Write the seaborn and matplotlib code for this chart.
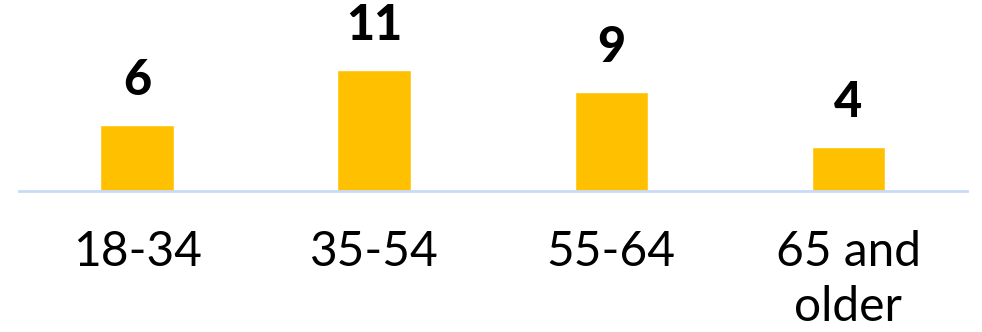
import matplotlib
matplotlib.use("Agg")
import matplotlib.pyplot as plt
import seaborn as sns
import pandas as pd

categories = ["18-34", "35-54", "55-64", "65 and\nolder"]
values = [6, 11, 9, 4]

sns.set_theme(style="white")
plt.rcParams['font.family'] = ['Lato', 'DejaVu Sans']

df = pd.DataFrame({"age": categories, "value": values})

fig = plt.figure(figsize=(9.82, 3.32), dpi=100)
ax = fig.add_axes([0.0, (332 - 191) / 332, 1.0, 191 / 332])
sns.barplot(data=df, x="age", y="value", color="#FFC000", width=0.31,
            saturation=1, ax=ax)

ax.set_xlim(-0.5 - 18.5 / 237, 3.5 + 15 / 237)
ax.set_ylim(0, 191 / 11)
for s in ["top", "right", "left"]:
    ax.spines[s].set_visible(False)
ax.spines["bottom"].set_color("#c9daf8")
ax.spines["bottom"].set_linewidth(2)
ax.spines["bottom"].set_bounds(-0.5, 3.5)
ax.set_yticks([])
ax.set_xlabel("")
ax.set_ylabel("")
ax.tick_params(axis="x", length=0, pad=28, labelsize=34.5, labelcolor="black")
for lbl in ax.get_xticklabels():
    lbl.set_linespacing(1.3)

for i, v in enumerate(values):
    ax.annotate(str(v), (i, v), xytext=(0, 16), textcoords="offset points",
                ha="center", va="bottom", fontsize=35, fontweight="black",
                color="black")

fig.savefig("out.png", dpi=100)
